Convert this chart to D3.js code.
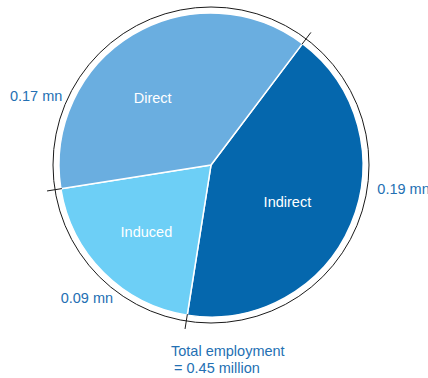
<!DOCTYPE html>
<html>
<head>
<meta charset="utf-8">
<script src="https://cdn.jsdelivr.net/npm/d3@7"></script>
<style>
  html, body { margin: 0; padding: 0; background: #fff; }
  svg { display: block; font-family: "Liberation Sans", Arial, Helvetica, sans-serif; }
</style>
</head>
<body>
<svg id="chart" width="428" height="378"></svg>
<script>
// Employment by type (millions)
const categories = ["Indirect", "Induced", "Direct"];
const values = [0.19, 0.09, 0.17];
const colors = ["#0567ad", "#6dcff6", "#6aaee0"];
const unitLabel = "mn";
const totalLabel = "Total employment";
const totalUnit = "million";

const width = 428, height = 378;
const cx = 211, cy = 165;
const radius = 152;
const ringRadius = 158;
const deg = Math.PI / 180;
const startAngle = 37 * deg;

const svg = d3.select("#chart");
const g = svg.append("g").attr("transform", `translate(${cx},${cy})`);

const data = categories.map((c, i) => ({ name: c, value: values[i], color: colors[i] }));

const pie = d3.pie()
  .sort(null)
  .value(d => d.value)
  .startAngle(startAngle)
  .endAngle(startAngle + 2 * Math.PI);

const arcs = pie(data);
const arc = d3.arc().innerRadius(0).outerRadius(radius);

// slices
g.selectAll("path.slice")
  .data(arcs)
  .join("path")
  .attr("class", "slice")
  .attr("d", arc)
  .attr("fill", d => d.data.color)
  .attr("stroke", "#fff")
  .attr("stroke-width", 1.5)
  .attr("stroke-linejoin", "round");

// outer ring
g.append("circle")
  .attr("r", ringRadius)
  .attr("fill", "none")
  .attr("stroke", "#1a1a1a")
  .attr("stroke-width", 1);

// boundary ticks across the ring
const polar = (r, a) => [r * Math.sin(a), -r * Math.cos(a)];
g.selectAll("line.tick")
  .data(arcs)
  .join("line")
  .attr("class", "tick")
  .attr("x1", d => polar(radius - 1, d.startAngle)[0])
  .attr("y1", d => polar(radius - 1, d.startAngle)[1])
  .attr("x2", d => polar(ringRadius + 8, d.startAngle)[0])
  .attr("y2", d => polar(ringRadius + 8, d.startAngle)[1])
  .attr("stroke", "#1a1a1a")
  .attr("stroke-width", 1);

// category names inside slices
const nameShift = { Indirect: 3 * deg, Induced: -1 * deg, Direct: -10 * deg };
const nameRadius = { Indirect: 85, Induced: 93, Direct: 89 };
g.selectAll("text.name")
  .data(arcs)
  .join("text")
  .attr("class", "name")
  .attr("x", d => polar(nameRadius[d.data.name], (d.startAngle + d.endAngle) / 2 + nameShift[d.data.name])[0])
  .attr("y", d => polar(nameRadius[d.data.name], (d.startAngle + d.endAngle) / 2 + nameShift[d.data.name])[1])
  .attr("dy", "0.35em")
  .attr("text-anchor", "middle")
  .attr("fill", "#fff")
  .attr("font-size", 14.5)
  .text(d => d.data.name);

// value labels outside the ring
const fmt = d3.format(".2f");
const valueAngle = { Indirect: 97 * deg, Induced: 223 * deg, Direct: 291.5 * deg };
const valueRadius = { Indirect: 194, Induced: 182, Direct: 188 };
g.selectAll("text.value")
  .data(arcs)
  .join("text")
  .attr("class", "value")
  .attr("x", d => polar(valueRadius[d.data.name], valueAngle[d.data.name])[0])
  .attr("y", d => polar(valueRadius[d.data.name], valueAngle[d.data.name])[1])
  .attr("dy", "0.35em")
  .attr("text-anchor", "middle")
  .attr("fill", "#2470b3")
  .attr("font-size", 14.5)
  .text(d => `${fmt(d.data.value)} ${unitLabel}`);

// total
const total = d3.sum(values);
const totalText = g.append("text")
  .attr("x", -40)
  .attr("y", 191)
  .attr("fill", "#2470b3")
  .attr("font-size", 14.5);
totalText.append("tspan").attr("x", -40).text(totalLabel);
totalText.append("tspan").attr("x", -37).attr("dy", 17).text(`= ${fmt(total)} ${totalUnit}`);
</script>
</body>
</html>
